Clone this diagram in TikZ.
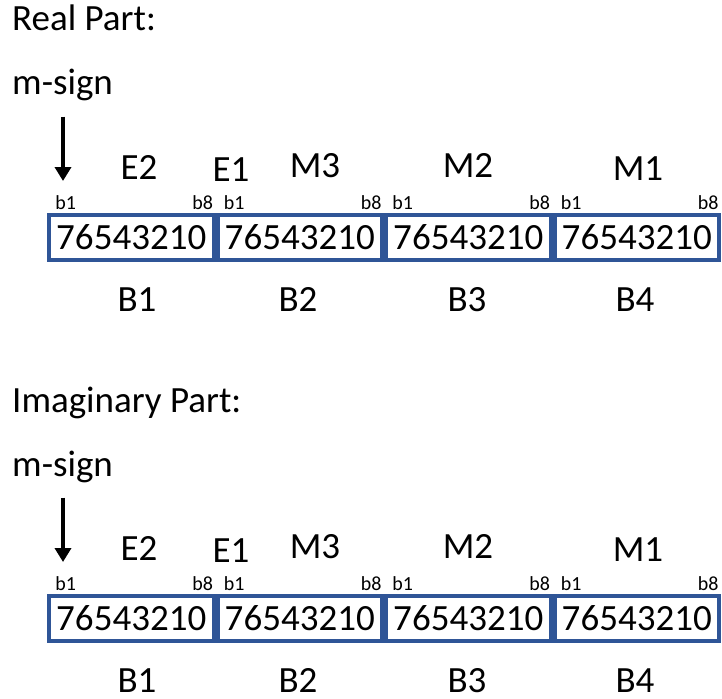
\documentclass[tikz,border=0pt]{standalone}
\usepackage{fontspec}
\setmainfont{Carlito}
\usetikzlibrary{arrows.meta}
\definecolor{byteblue}{RGB}{47,85,151}
\tikzset{
  big/.style={font=\fontsize{37}{40}\selectfont, inner sep=0pt},
  parttitle/.style={big, anchor=base west},
  fieldname/.style={big, anchor=base},
  bytename/.style={big, anchor=base},
  bitlabel/.style={font=\fontsize{20}{24}\selectfont, inner sep=0pt},
  bytebox/.style={draw=byteblue, line width=4pt, minimum width=164.5pt, minimum height=45pt, inner sep=0pt, font=\fontsize{37}{40}\selectfont},
  signarrow/.style={line width=4pt, -{Triangle[width=16pt,length=14pt]}}
}
\begin{document}
\begin{tikzpicture}[x=1pt, y=-1pt]
  \useasboundingbox (0,0) rectangle (722,698);
  % one block per part, the second shifted down
  \foreach \p/\pname/\dy in {r/Real/0, i/Imaginary/381}{
    \node[parttitle] (\p-title) at (12,31+\dy) {\pname\ Part:};
    \node[parttitle] (\p-sign) at (12,95+\dy) {m-sign};
    \coordinate (\p-tip) at (63,181+\dy);
    \draw[signarrow, shorten <=15pt] (\p-sign.south -| \p-tip) -- (\p-tip);
    % field names above the bytes
    \foreach \f/\fx/\fy in {E2/139/179, E1/231/181, M3/315/177, M2/468/177, M1/638/180}
      \node[fieldname] (\p-\f) at (\fx,\fy+\dy) {\f};
    % the four bytes
    \foreach \k/\x/\bx in {1/131.25/137, 2/299.75/298, 3/468.25/467, 4/636.75/635}{
      \node[bytebox] (\p-byte\k) at (\x,237.5+\dy) {76543210};
      \node[bitlabel, anchor=base west] (\p-first\k) at (\x-76,209+\dy) {b1};
      \node[bitlabel, anchor=base east] (\p-last\k) at (\x+82,209+\dy) {b8};
      \node[bytename] (\p-name\k) at (\bx,311+\dy) {B\k};
    }
  }
\end{tikzpicture}
\end{document}
